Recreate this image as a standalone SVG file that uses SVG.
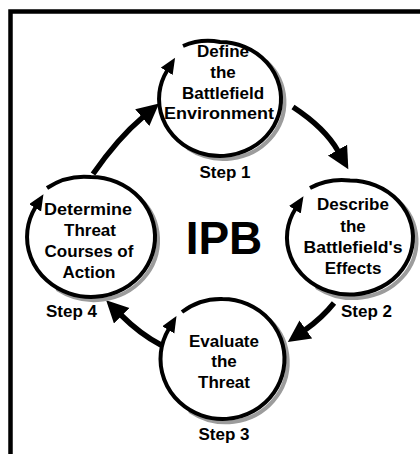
<svg xmlns="http://www.w3.org/2000/svg" width="420" height="454" viewBox="0 0 420 454">
<defs>
<style>
.t{font-family:"Liberation Sans",Arial,sans-serif;font-weight:bold;font-size:17px;fill:#000;text-anchor:middle}
.ring{fill:none;stroke:#000;stroke-width:4}
.shadow{fill:none;stroke:#9c9c9c;stroke-width:4;stroke-linecap:round;filter:url(#blur)}
.conn{fill:none;stroke:#000;stroke-width:5.5}
</style>
<filter id="blur" x="-10%" y="-10%" width="120%" height="120%"><feGaussianBlur stdDeviation="0.7"/></filter>
<marker id="ah" markerUnits="userSpaceOnUse" markerWidth="18" markerHeight="16" refX="1" refY="7" orient="auto"><path d="M0,0 L16,7 L0,14 z" fill="#000"/></marker>
<marker id="big" markerUnits="userSpaceOnUse" markerWidth="24" markerHeight="24" refX="1" refY="11" orient="auto"><path d="M0,0 L22,11 L0,22 z" fill="#000"/></marker>
</defs>
<rect width="420" height="454" fill="#fff"/>
<path d="M10.5,456 V11.5 H422" fill="none" stroke="#000" stroke-width="4.5"/>

<g id="connectors">
<path class="conn" d="M93,174 Q118,138 143,117" marker-end="url(#big)"/>
<path class="conn" d="M293,107 Q325,128 338,151" marker-end="url(#big)"/>
<path class="conn" d="M334,303 Q322,318 305,330" marker-end="url(#big)"/>
<path class="conn" d="M161,345 Q140,334 121,315" marker-end="url(#big)"/>
</g>

<g id="step1">
<path class="shadow" d="M266.6,61.7 A61,57 0 0 1 188.5,148.7"/>
<path class="ring" d="M183,46 A61,57 0 0 1 220,42 A61,57 0 1 1 167.2,70.5" marker-end="url(#ah)"/>
<text class="t" x="223" y="57">Define</text>
<text class="t" x="223" y="78">the</text>
<text class="t" x="223" y="98.5">Battlefield</text>
<text class="t" x="219" y="119" textLength="110" lengthAdjust="spacingAndGlyphs">Environment</text>
<text class="t" x="225" y="178">Step 1</text>
</g>

<g id="step2">
<path class="shadow" d="M398,200.7 A63,57 0 0 1 317.3,287.7"/>
<path class="ring" d="M310,188 A63,57 0 0 1 350,180.5 A63,57 0 1 1 295.4,209" marker-end="url(#ah)"/>
<text class="t" x="353" y="210">Describe</text>
<text class="t" x="353" y="231.5">the</text>
<text class="t" x="353" y="253" textLength="99" lengthAdjust="spacingAndGlyphs">Battlefield's</text>
<text class="t" x="353" y="273.5">Effects</text>
<text class="t" x="366.5" y="317">Step 2</text>
</g>

<g id="step3">
<path class="shadow" d="M269.8,320.1 A62,60 0 0 1 190.4,411.6"/>
<path class="ring" d="M182,312 A62,60 0 0 1 222.5,299 A62,60 0 1 1 168.8,329" marker-end="url(#ah)"/>
<text class="t" x="224" y="346.5">Evaluate</text>
<text class="t" x="224" y="367">the</text>
<text class="t" x="224" y="388">Threat</text>
<text class="t" x="224" y="440">Step 3</text>
</g>

<g id="step4">
<path class="shadow" d="M139.7,198.1 A64,60 0 0 1 57.8,289.6"/>
<path class="ring" d="M47,188 A64,60 0 0 1 91,177 A64,60 0 1 1 35.6,207" marker-end="url(#ah)"/>
<text class="t" x="88" y="215" textLength="88" lengthAdjust="spacingAndGlyphs">Determine</text>
<text class="t" x="90" y="235.5">Threat</text>
<text class="t" x="89" y="256.5">Courses of</text>
<text class="t" x="89" y="278">Action</text>
<text class="t" x="71.5" y="317">Step 4</text>
</g>

<g id="ipb">
<text x="224" y="253.5" font-family="Liberation Sans, Arial, sans-serif" font-weight="bold" font-size="46" text-anchor="middle">IPB</text>
</g>
</svg>
